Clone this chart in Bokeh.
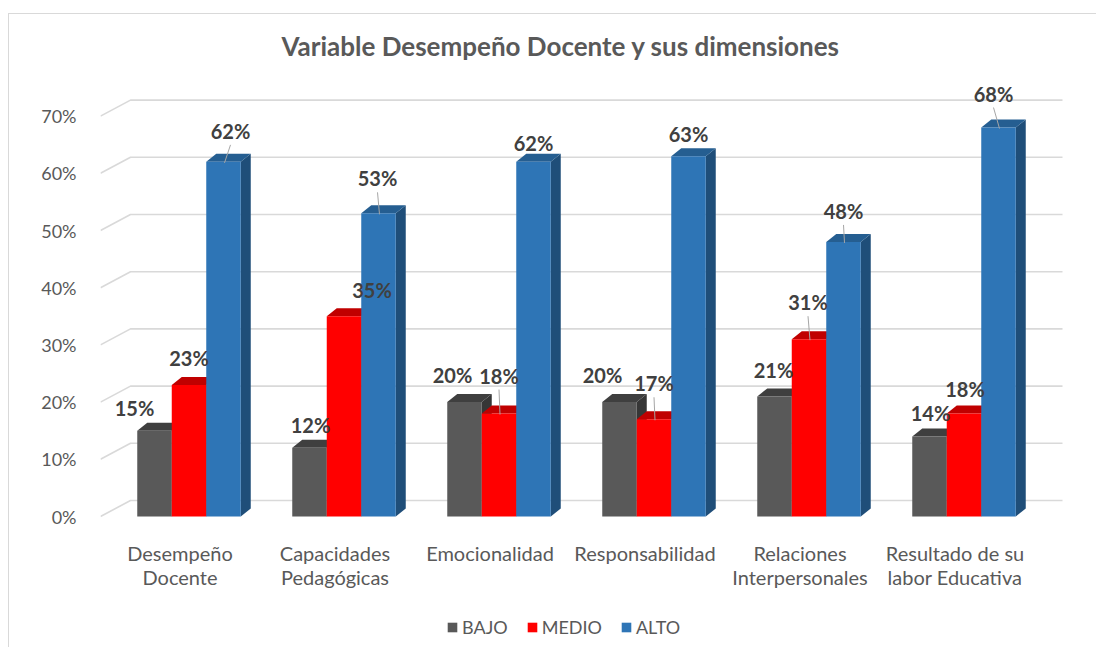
from bokeh.plotting import figure
from bokeh.models import Range1d, FixedTicker, Legend, LegendItem
from bokeh.embed import file_html
from bokeh.resources import INLINE
from bokeh.core.properties import value

# ---------------- data ----------------
categories = ["Desempeño\nDocente", "Capacidades\nPedagógicas", "Emocionalidad",
              "Responsabilidad", "Relaciones\nInterpersonales", "Resultado de su\nlabor Educativa"]
series_names = ["BAJO", "MEDIO", "ALTO"]
bajo = [15, 12, 20, 20, 21, 14]
medio = [23, 35, 18, 17, 31, 18]
alto = [62, 53, 62, 63, 48, 68]
y_ticks = [0, 10, 20, 30, 40, 50, 60, 70]
y_tick_labels = ["0%", "10%", "20%", "30%", "40%", "50%", "60%", "70%"]

# ---------------- layout / style ----------------
FIG_W, FIG_H = 1088, 634
FRAME_L, FRAME_T = 91, 56
GROUP_PX = 155.0      # px between group centres
PCT_PX = 5.72         # px per percentage point
X0 = 179.5            # fig-x of group 0 centre
Y0 = 502.0            # fig-y of the 0% front baseline

x_start = (FRAME_L - X0) / GROUP_PX
x_end = (FIG_W - X0) / GROUP_PX
y_end = (Y0 - FRAME_T) / PCT_PX
y_start = (Y0 - FIG_H) / PCT_PX

BAR_W = 34.5 / GROUP_PX
DEPTH_X, DEPTH_Y = 10 / GROUP_PX, 8 / PCT_PX
WALL_X, WALL_Y = 30 / GROUP_PX, 16 / PCT_PX
WALL_END = (1053 - X0) / GROUP_PX

FONT = "Lato"
TXT = "#595959"

front_colors = ["#595959", "#ff0000", "#2e75b6"]
top_colors = ["#3f3f3f", "#c00000", "#255e91"]
side_colors = ["#363636", "#a80000", "#1f4e79"]

lbl_dx = [[-20, 1, -12, -17, -1, 1], [0, 28, 0, 0, -1, 1], [7, -1, 0, 0, 0, -5]]
lbl_dy = [[-23, -23, -27, -27, -26, -23], [-27, -26, -38, -36, -37, -25], [-31, -35, -19, -22, -31, -34]]
leader = [[0, 0, 0, 0, 0, 0], [0, 0, 1, 1, 1, 0], [1, 1, 0, 0, 1, 1]]

p = figure(width=FIG_W, height=FIG_H, output_backend="svg", toolbar_location=None,
           x_range=Range1d(x_start, x_end), y_range=Range1d(y_start, y_end),
           min_border_left=FRAME_L, min_border_top=FRAME_T, min_border_right=0, min_border_bottom=0,
           background_fill_color="white", border_fill_color="white")
p.styles = {"margin-left": "8px", "margin-top": "13px",
            "border-left": "1px solid #d9d9d9", "border-top": "1px solid #d9d9d9"}
p.outline_line_color = None
p.xgrid.visible = False
p.ygrid.visible = False
p.xaxis.visible = False

p.title.text = "Variable Desempeño Docente y sus dimensiones"
p.title.align = "left"
p.title.offset = 181
p.title.standoff = 18
p.title.text_font = FONT
p.title.text_font_size = "26px"
p.title.text_font_style = "bold"
p.title.text_color = TXT

yax = p.yaxis[0]
yax.ticker = FixedTicker(ticks=y_ticks)
yax.major_label_overrides = {t: l for t, l in zip(y_ticks, y_tick_labels)}
yax.axis_line_color = None
yax.major_tick_line_color = None
yax.minor_tick_line_color = None
yax.major_label_standoff = 18
yax.major_label_text_font = FONT
yax.major_label_text_font_size = "18px"
yax.major_label_text_color = TXT

# back-wall gridlines with diagonal connectors
gx, gy = [], []
for t in y_ticks:
    gx.append([x_start, x_start + WALL_X, WALL_END])
    gy.append([t, t + WALL_Y, t + WALL_Y])
p.multi_line(gx, gy, line_color="#d9d9d9", line_width=1.6)

# bars
series = [bajo, medio, alto]
fronts = []
for s, vals in enumerate(series):
    xc = [i + (s - 1) * BAR_W for i in range(len(vals))]
    side_xs, side_ys, top_xs, top_ys = [], [], [], []
    for x, v in zip(xc, vals):
        l, r = x - BAR_W / 2, x + BAR_W / 2
        side_xs.append([r, r + DEPTH_X, r + DEPTH_X, r])
        side_ys.append([0, DEPTH_Y, v + DEPTH_Y, v])
        top_xs.append([l, r, r + DEPTH_X, l + DEPTH_X])
        top_ys.append([v, v, v + DEPTH_Y, v + DEPTH_Y])
    p.patches(side_xs, side_ys, fill_color=side_colors[s], line_color=None)
    p.patches(top_xs, top_ys, fill_color=top_colors[s], line_color=None)
    fr = p.vbar(x=xc, top=vals, bottom=0, width=BAR_W, fill_color=front_colors[s], line_color=None)
    fronts.append(fr)

# data labels and leader lines
for s, vals in enumerate(series):
    xc = [i + (s - 1) * BAR_W for i in range(len(vals))]
    lx = [x + dx / GROUP_PX for x, dx in zip(xc, lbl_dx[s])]
    ly = [v - dy / PCT_PX for v, dy in zip(vals, lbl_dy[s])]
    p.text(x=lx, y=ly, text=[f"{v}%" for v in vals], text_align="center", text_baseline="middle",
           text_font=value(FONT), text_font_size="20px", text_font_style="bold", text_color="#404040")
    x0s, y0s, x1s, y1s = [], [], [], []
    for i in range(len(vals)):
        if leader[s][i]:
            x0s.append(lx[i]); y0s.append(ly[i] - 14 / PCT_PX)
            x1s.append(xc[i] + 1 / GROUP_PX); y1s.append(vals[i] - 1 / PCT_PX)
    if x0s:
        p.segment(x0s, y0s, x1s, y1s, line_color="#a6a6a6", line_width=1)

# category labels
p.text(x=[i - 9 / GROUP_PX for i in range(len(categories))], y=[-(526 - Y0) / PCT_PX] * len(categories),
       text=categories, text_align="center", text_baseline="top", text_line_height=1.04,
       text_font=value(FONT), text_font_size="20px", text_color=TXT)

legend = Legend(items=[LegendItem(label=n, renderers=[r]) for n, r in zip(series_names, fronts)],
                orientation="horizontal", location=(346, 10), padding=2, spacing=18,
                glyph_width=12, glyph_height=12, label_standoff=4,
                label_text_font=FONT, label_text_font_size="18px", label_text_color=TXT,
                border_line_color=None, background_fill_alpha=0)
p.add_layout(legend)

open("out.html", "w").write(file_html(p, INLINE))
